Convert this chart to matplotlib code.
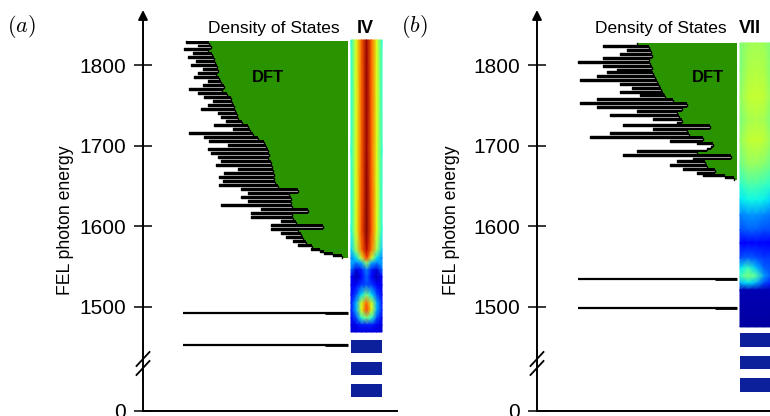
import numpy as np
import matplotlib
matplotlib.use("Agg")
import matplotlib.pyplot as plt

plt.rcParams['font.family'] = ['Liberation Sans', 'DejaVu Sans']
plt.rcParams['mathtext.fontset'] = 'cm'

# ---------------------------------------------------------------- data
# DFT density of states (arbitrary units), sampled from high to low energy
dos_a = [162, 139, 150, 137, 164, 140, 155, 136, 160, 134,
         152, 133, 157, 131, 145, 130, 150, 132, 154, 129,
         140, 127, 145, 124, 159, 126, 150, 121, 144, 117,
         135, 116, 140, 114, 147, 113, 130, 111, 127, 110,
         122, 106, 134, 100, 115, 98, 159, 95, 144, 90,
         139, 84, 120, 82, 140, 80, 137, 79, 130, 80,
         127, 77, 132, 76, 110, 75, 124, 74, 129, 74,
         125, 73, 129, 70, 107, 50, 100, 59, 107, 57,
         100, 57, 127, 56, 87, 40, 97, 56, 97, 55,
         67, 52, 77, 25, 77, 50, 67, 47, 62, 45,
         55, 42, 50, 36, 37, 28, 24, 15, 6]
dos_a_range = (1831, 1561)

dos_b = [100, 134, 88, 110, 86, 117, 85, 134, 88, 159,
         87, 134, 85, 120, 130, 84, 140, 82, 157, 80,
         117, 78, 105, 76, 117, 74, 97, 72, 140, 64,
         157, 50, 140, 55, 100, 60, 127, 58, 84, 55,
         60, 114, 27, 84, 50, 127, 48, 147, 34, 67,
         40, 24, 26, 30, 100, 40, 114, 6, 44, 60,
         32, 67, 30, 54, 22, 40, 34, 12, 3]
dos_b_range = (1828, 1658)

# discrete states below the DFT band (energy, DOS amplitude)
levels_a = [1492.9, 1452.8]
levels_b = [1534.8, 1498.8]
level_amp_a = 165
level_amp_b = 159

# measured maps: energies of the rows and normalised intensity per row
map_a_energy = [1831.7, 1695, 1595.7, 1570.8, 1560.9, 1554.7, 1546, 1537.3,
                1527.3, 1514.9, 1505, 1496.3, 1486.3, 1477.6, 1468.9]
map_a = [[0.40, 0.62, 0.80, 0.98, 0.80, 0.62, 0.40],
         [0.40, 0.62, 0.80, 0.98, 0.80, 0.62, 0.40],
         [0.38, 0.62, 0.82, 1.00, 0.82, 0.62, 0.38],
         [0.33, 0.55, 0.78, 0.95, 0.78, 0.55, 0.33],
         [0.25, 0.35, 0.60, 0.85, 0.60, 0.35, 0.25],
         [0.30, 0.25, 0.30, 0.55, 0.30, 0.25, 0.30],
         [0.22, 0.08, 0.15, 0.25, 0.15, 0.08, 0.22],
         [0.12, 0.05, 0.12, 0.22, 0.12, 0.05, 0.12],
         [0.10, 0.12, 0.18, 0.20, 0.18, 0.12, 0.10],
         [0.12, 0.20, 0.35, 0.50, 0.35, 0.20, 0.12],
         [0.15, 0.30, 0.60, 0.80, 0.60, 0.30, 0.15],
         [0.15, 0.30, 0.62, 0.85, 0.62, 0.30, 0.15],
         [0.10, 0.20, 0.40, 0.50, 0.40, 0.20, 0.10],
         [0.08, 0.10, 0.15, 0.15, 0.15, 0.10, 0.08],
         [0.08, 0.08, 0.08, 0.08, 0.08, 0.08, 0.08]]

map_b_energy = [1828, 1794.4, 1760.9, 1732.3, 1707.5, 1676.4, 1651.6, 1632.9,
                1614.3, 1595.7, 1579.5, 1560.9, 1548.4, 1538.5, 1529.8, 1521.1,
                1475.2]
map_b = [[0.50, 0.54, 0.55, 0.54, 0.50],
         [0.50, 0.56, 0.57, 0.56, 0.51],
         [0.53, 0.58, 0.59, 0.58, 0.53],
         [0.50, 0.55, 0.56, 0.55, 0.50],
         [0.53, 0.58, 0.59, 0.58, 0.53],
         [0.48, 0.53, 0.53, 0.51, 0.48],
         [0.40, 0.44, 0.44, 0.42, 0.40],
         [0.35, 0.37, 0.37, 0.36, 0.33],
         [0.25, 0.27, 0.27, 0.26, 0.24],
         [0.20, 0.22, 0.22, 0.20, 0.20],
         [0.12, 0.12, 0.13, 0.12, 0.12],
         [0.20, 0.22, 0.20, 0.18, 0.18],
         [0.35, 0.42, 0.32, 0.22, 0.20],
         [0.42, 0.50, 0.45, 0.28, 0.20],
         [0.30, 0.35, 0.30, 0.20, 0.15],
         [0.05, 0.05, 0.05, 0.05, 0.05],
         [0.03, 0.03, 0.03, 0.03, 0.03]]

# low-energy bins of the maps (top, bottom)
bins_a = [(1459.0, 1442.9), (1431.7, 1415.5), (1404.3, 1388.2)]
bins_b = [(1467.7, 1450.3), (1439.1, 1423.0), (1411.8, 1394.4)]

ytick_values = [1500, 1600, 1700, 1800]
ytick_labels = ['1500', '1600', '1700', '1800']

# ---------------------------------------------------------------- layout
W, H = 770, 416
E_BOTTOM, E_TOP = 1370.8, 1868.9
GREEN = '#2a9300'
BIN_BLUE = '#0b209a'

fig = plt.figure(figsize=(7.7, 4.16), dpi=100)


def fx(px):
    return px / W


def fy(py):
    return 1 - py / H


def panel(left_px, right_px, base, strip, dos, dos_range, levels, level_amp,
          map_E, map_vals, bins, label, roman, dft_x, dos_x, roman_x, ylab_x):
    ax = fig.add_axes([fx(left_px), fy(411), fx(right_px - left_px), (411 - 10) / H])
    ax.set_xlim(0, right_px - left_px)
    ax.set_ylim(E_BOTTOM, E_TOP)

    # DFT density of states, each energy bin drawn as a horizontal step:
    # black spikes, with the smooth lower envelope of the spectrum filled green
    d = np.asarray(dos, float)
    env = np.minimum.reduce([np.r_[d[0], d[:-1]], d, np.r_[d[1:], d[-1]]])
    edges = np.linspace(dos_range[0], dos_range[1], len(dos) + 1)
    Ey = np.column_stack([edges[:-1], edges[1:]]).ravel()
    xc = np.repeat(base - d, 2)
    xe = np.repeat(base - env, 2)
    ax.fill_betweenx(Ey, xc, base, color='k', lw=0, zorder=2)
    ax.fill_betweenx(Ey, xe, base, color=GREEN, lw=0, zorder=2.5)
    ax.plot(xc, Ey, color='k', lw=1.0, zorder=3)

    # discrete states
    for lv in levels:
        ax.hlines(lv, base - level_amp, base, color='k', lw=1.6, zorder=3)
        ax.hlines(lv, base - 0.14 * level_amp, base, color='k', lw=2.0, zorder=3)

    # measured map
    cols = np.linspace(strip[0], strip[1], len(map_vals[0]))
    X, Y = np.meshgrid(cols, map_E)
    ax.pcolormesh(X, Y, np.asarray(map_vals), shading='gouraud', cmap='jet',
                  vmin=0, vmax=1, zorder=2, clip_on=False)
    for top, bot in bins:
        ax.barh((top + bot) / 2, strip[1] - strip[0], height=top - bot,
                left=strip[0], color=BIN_BLUE, zorder=2, clip_on=False)

    # axes
    for s in ['top', 'right', 'left']:
        ax.spines[s].set_visible(False)
    ax.spines['bottom'].set_linewidth(1.4)
    ax.set_xticks([])
    ax.set_yticks([E_BOTTOM] + ytick_values)
    ax.set_yticklabels(['0'] + ytick_labels)
    ax.tick_params(axis='y', direction='inout', length=13, width=1.1,
                   labelsize=15, pad=6)
    ax.annotate('', xy=(0, 1), xycoords='axes fraction', xytext=(0, 0),
                textcoords='axes fraction',
                arrowprops=dict(arrowstyle='-|>,head_length=0.4,head_width=0.2',
                                lw=1.4, color='k', shrinkA=0, shrinkB=0,
                                mutation_scale=14), annotation_clip=False)
    # axis break marks
    k = 1 / 0.805
    for yc in (359, 368):
        ec = 1500 - (yc - 307) * k
        ax.plot([-6.5, 6.5], [ec - 7 * k, ec + 7 * k], color='k', lw=1.3,
                clip_on=False, zorder=4)

    # text
    fig.text(fx(ylab_x), fy(220), 'FEL photon energy', rotation=90,
             ha='center', va='center', fontsize=12.7)
    fig.text(fx(label[1]), fy(31.5), label[0], ha='left', va='baseline',
             fontsize=16)
    fig.text(fx(dos_x), fy(33.3), 'Density of States', ha='left',
             va='baseline', fontsize=12.5)
    fig.text(fx(roman_x), fy(33.3), roman, ha='left', va='baseline',
             fontsize=13, fontweight='bold')
    fig.text(fx(dft_x), fy(82.5), 'DFT', ha='left', va='baseline',
             fontsize=12, fontweight='bold')
    return ax


panel(143, 397, 205, (208, 239), dos_a, dos_a_range, levels_a, level_amp_a,
      map_a_energy, map_a, bins_a, (r'$(a)$', 7), 'IV',
      252, 208, 357, 66)
panel(537, 770, 200, (203, 235), dos_b, dos_b_range, levels_b, level_amp_b,
      map_b_energy, map_b, bins_b, (r'$(b)$', 401), 'VII',
      692, 595, 739, 452)

fig.savefig('out.png', dpi=100)
